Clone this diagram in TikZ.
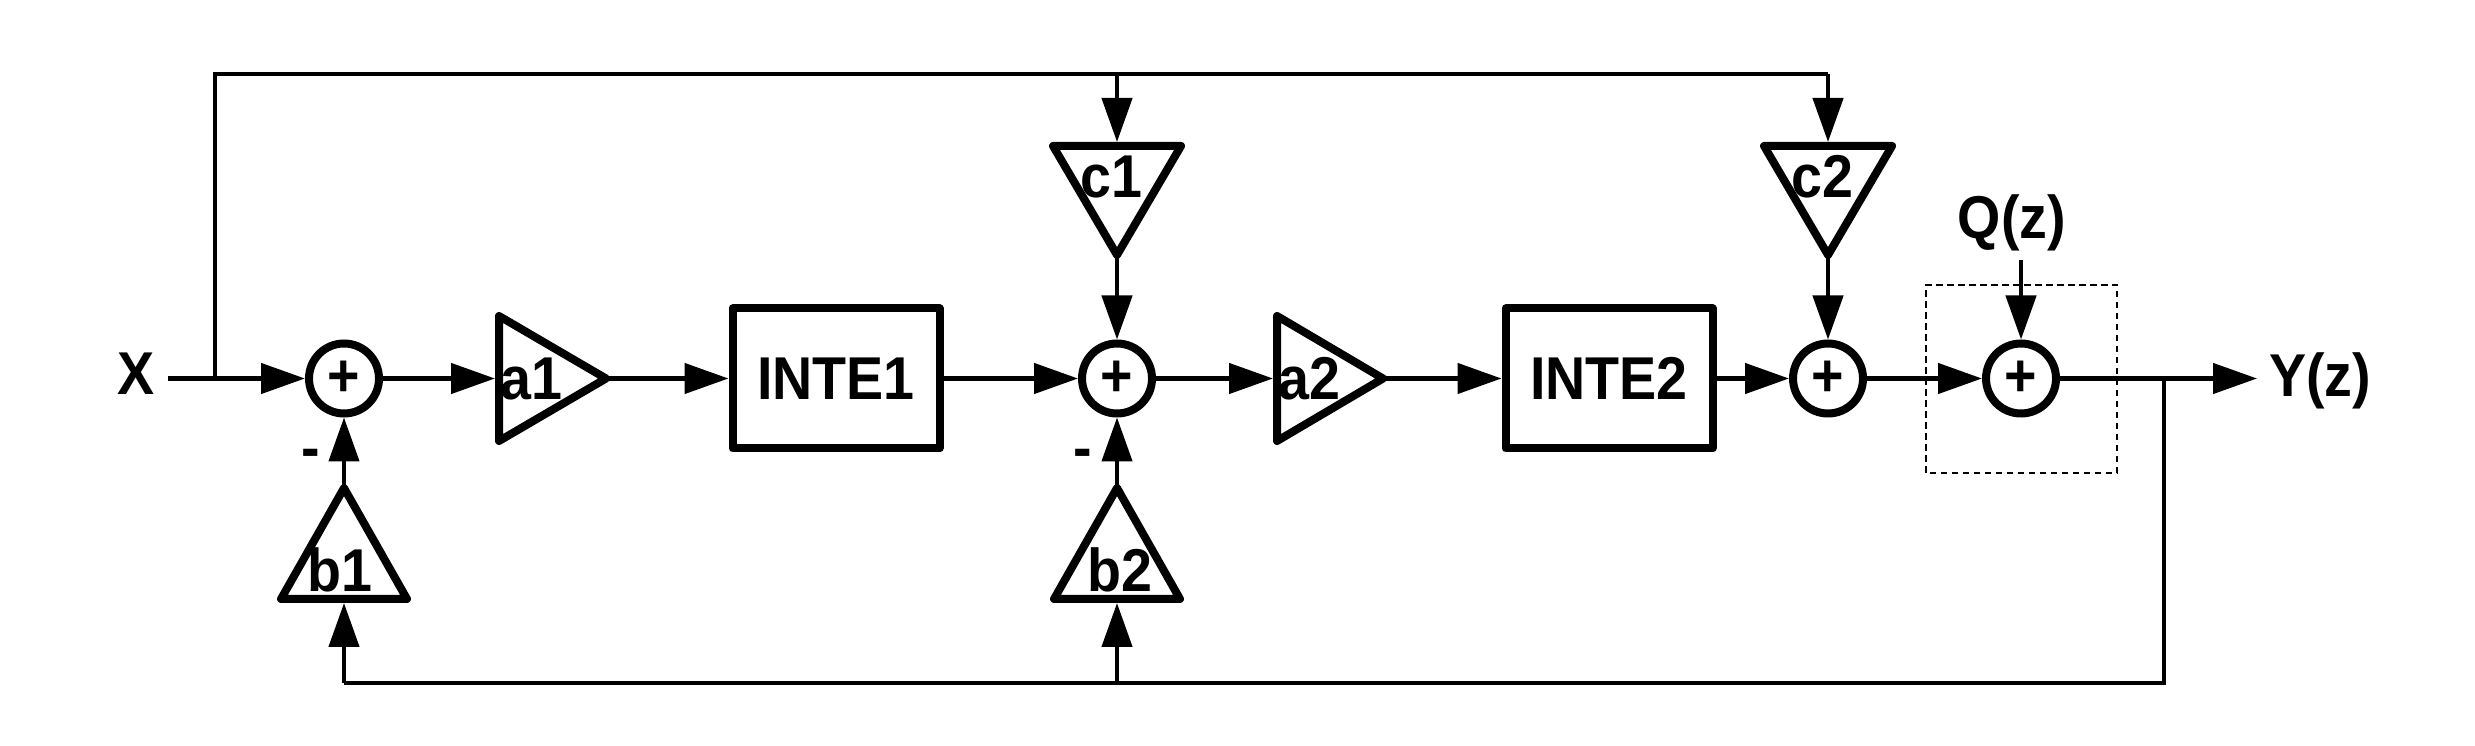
\documentclass[tikz,border=0pt]{standalone}
\usepackage{fontspec}
\setmainfont{Liberation Sans}[FakeStretch = 0.92]
\usetikzlibrary{arrows.meta}

\tikzset{
  wire/.style = {line width = .45mm},
  arr/.style = {wire, -{Triangle[length = 4.4mm, width = 3mm]}},
  gain/.style = {line width = .8mm, line join = round},
  lbl/.style = {font = \fontsize{17.2}{19}\selectfont\bfseries, inner sep = 0pt},
  blk/.style = {lbl, draw, line width = .8mm, line join = round, minimum width = 20.7mm, minimum height = 14mm},
  sum/.style = {lbl, draw, circle, line width = .8mm, minimum size = 7mm},
  qbox/.style = {line width = .2mm, dash pattern = on .65mm off .45mm},
}

\begin{document}
\begin{tikzpicture}
  \useasboundingbox (0, 0) rectangle (24.75, 7.45);

  %%input
  \node[lbl] (X) at (1.365, 3.71) {X};
  \coordinate (xin) at (1.68, 3.665);
  \coordinate (xsplit) at (2.15, 3.665);
  \coordinate (ctop1) at (11.17, 6.71);
  \coordinate (ctop2) at (18.28, 6.71);

  %%stage 1
  \node[sum] (s1) at (3.44, 3.665) {+};
    \draw[gain](4.99, 4.29) to (6.06, 3.665) to (4.99, 3.04) -- cycle;
    \coordinate (a1in) at (4.95, 3.665);
    \coordinate (a1out) at (6.06, 3.665);
    \node[lbl] (a1) at (5.315, 3.66) {a1};
  \node[blk] (i1) at (8.36, 3.665) {INTE1};

    \draw[gain](2.81, 1.46) to (3.44, 2.57) to (4.07, 1.46) -- cycle;
    \coordinate (b1in) at (3.44, 1.42);
    \coordinate (b1out) at (3.44, 2.57);
    \node[lbl] (b1) at (3.395, 1.75) {b1};
    \node[lbl] (m1) at (3.11, 2.865) {-};

  %%stage 2
  \node[sum] (s2) at (11.17, 3.665) {+};
    \draw[gain](10.53, 5.99) to (11.81, 5.99) to (11.17, 4.90) -- cycle;
    \coordinate (c1in) at (11.17, 6.03);
    \coordinate (c1out) at (11.17, 4.90);
    \node[lbl] (c1) at (11.115, 5.68) {c1};

    \draw[gain](12.77, 4.29) to (13.83, 3.665) to (12.77, 3.04) -- cycle;
    \coordinate (a2in) at (12.73, 3.665);
    \coordinate (a2out) at (13.83, 3.665);
    \node[lbl] (a2) at (13.09, 3.66) {a2};
  \node[blk] (i2) at (16.09, 3.665) {INTE2};

    \draw[gain](10.54, 1.46) to (11.17, 2.57) to (11.80, 1.46) -- cycle;
    \coordinate (b2in) at (11.17, 1.42);
    \coordinate (b2out) at (11.17, 2.57);
    \node[lbl] (b2) at (11.2, 1.75) {b2};
    \node[lbl] (m2) at (10.83, 2.865) {-};

  %%output
  \node[sum] (s3) at (18.28, 3.665) {+};
    \draw[gain](17.64, 5.99) to (18.92, 5.99) to (18.28, 4.90) -- cycle;
    \coordinate (c2in) at (18.28, 6.03);
    \coordinate (c2out) at (18.28, 4.90);
    \node[lbl] (c2) at (18.22, 5.68) {c2};

  \node[sum] (s4) at (20.21, 3.665) {+};
    \draw[qbox](19.26, 2.72) rectangle (21.17, 4.60);
    \node[lbl] (Q) at (20.12, 5.225) {Q(z)};
    \coordinate (qin) at (20.21, 4.85);
  \coordinate (ysplit) at (21.64, 3.665);
  \coordinate (yout) at (22.57, 3.665);
  \node[lbl] (Y) at (23.20, 3.645) {Y(z)};
  \coordinate (bot1) at (3.44, 0.62);
  \coordinate (bot2) at (11.17, 0.62);

  %%wires
  \draw[wire](xin) to (xsplit);
  \draw[arr](xsplit) to (s1);
  \draw[wire](xsplit) |- (ctop2);
    \draw[arr](ctop1) to (c1in);
    \draw[arr](ctop2) to (c2in);

  \draw[arr](s1) to (a1in);
  \draw[arr](a1out) to (i1);
  \draw[arr](i1) to (s2);
  \draw[arr](s2) to (a2in);
  \draw[arr](a2out) to (i2);
  \draw[arr](i2) to (s3);
  \draw[arr](s3) to (s4);
  \draw[arr](s4) to (yout);

  \draw[arr](c1out) to (s2);
  \draw[arr](c2out) to (s3);
  \draw[arr](qin) to (s4);
  \draw[arr](b1out) to (s1);
  \draw[arr](b2out) to (s2);

  \draw[wire](ysplit) |- (bot1);
    \draw[arr](bot1) to (b1in);
    \draw[arr](bot2) to (b2in);

\end{tikzpicture}
\end{document}
